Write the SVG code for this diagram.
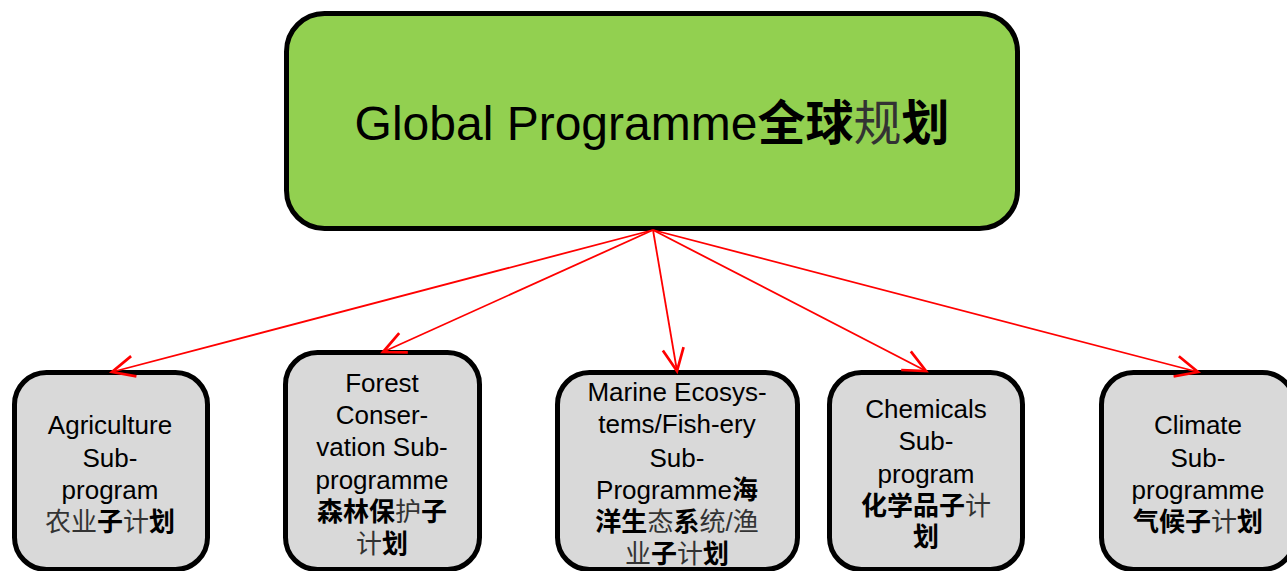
<svg xmlns="http://www.w3.org/2000/svg" width="1287" height="571" viewBox="0 0 1287 571">
<style>
text{font-family:"Liberation Sans","Noto Sans CJK SC",sans-serif;fill:#000;text-anchor:middle}
.sub{font-size:26px}
.title{font-size:48px}
.box{fill:#D9D9D9;stroke:#000;stroke-width:5}
.main{fill:#92D050;stroke:#000;stroke-width:5}
.c{font-weight:bold}
.t{fill:#333333;font-weight:normal}
.edge{stroke:#FF0000;stroke-width:1.8;fill:none;marker-end:url(#arr)}
</style>
<defs>
<marker id="arr" markerUnits="userSpaceOnUse" markerWidth="30" markerHeight="30" refX="0" refY="0" viewBox="-16 -10 20 20" orient="auto" overflow="visible">
<path d="M-15,-7 L0,0 L-15,7" fill="none" stroke="#FF0000" stroke-width="1.8"/>
</marker>
</defs>
<rect width="1287" height="571" fill="#FFFFFF"/>
<g id="global">
<rect class="main" x="286.5" y="13.5" width="731" height="215" rx="38" ry="38"/>
<text class="title" x="652" y="140">Global Programme<tspan class="c">全球</tspan><tspan class="t">规</tspan><tspan class="c">划</tspan></text>
</g>
<g id="agriculture">
<rect class="box" x="14.5" y="372.5" width="193" height="197" rx="32" ry="32"/>
<text class="sub" x="110" y="434">Agriculture</text>
<text class="sub" x="110" y="467">Sub-</text>
<text class="sub" x="110" y="499">program</text>
<text class="sub" x="110" y="531"><tspan class="t">农业</tspan><tspan class="c">子</tspan><tspan class="t">计</tspan><tspan class="c">划</tspan></text>
</g>
<g id="forest">
<rect class="box" x="285.5" y="352.5" width="194" height="217" rx="32" ry="32"/>
<text class="sub" x="382" y="392">Forest</text>
<text class="sub" x="382" y="424">Conser-</text>
<text class="sub" x="382" y="456">vation Sub-</text>
<text class="sub" x="382" y="489">programme</text>
<text class="sub" x="382" y="521"><tspan class="c">森林保</tspan><tspan class="t">护</tspan><tspan class="c">子</tspan></text>
<text class="sub" x="382" y="553"><tspan class="t">计</tspan><tspan class="c">划</tspan></text>
</g>
<g id="marine">
<rect class="box" x="557.5" y="372.5" width="240" height="197" rx="32" ry="32"/>
<text class="sub" x="677" y="401">Marine Ecosys-</text>
<text class="sub" x="677" y="433">tems/Fish-ery</text>
<text class="sub" x="677" y="467">Sub-</text>
<text class="sub" x="677" y="499">Programme<tspan class="c">海</tspan></text>
<text class="sub" x="677" y="531"><tspan class="c">洋生</tspan><tspan class="t">态</tspan><tspan class="c">系</tspan><tspan class="t">统/渔</tspan></text>
<text class="sub" x="677" y="563"><tspan class="t">业</tspan><tspan class="c">子</tspan><tspan class="t">计</tspan><tspan class="c">划</tspan></text>
</g>
<g id="chemicals">
<rect class="box" x="829.5" y="372.5" width="193" height="197" rx="32" ry="32"/>
<text class="sub" x="926" y="418">Chemicals</text>
<text class="sub" x="926" y="450">Sub-</text>
<text class="sub" x="926" y="483">program</text>
<text class="sub" x="926" y="515"><tspan class="c">化学品子</tspan><tspan class="t">计</tspan></text>
<text class="sub" x="926" y="546"><tspan class="c">划</tspan></text>
</g>
<g id="climate">
<rect class="box" x="1101.5" y="372.5" width="193" height="197" rx="32" ry="32"/>
<text class="sub" x="1198" y="434">Climate</text>
<text class="sub" x="1198" y="467">Sub-</text>
<text class="sub" x="1198" y="499">programme</text>
<text class="sub" x="1198" y="531"><tspan class="c">气候子</tspan><tspan class="t">计</tspan><tspan class="c">划</tspan></text>
</g>
<g id="connectors">
<line class="edge" x1="653" y1="230" x2="112" y2="372"/>
<line class="edge" x1="653" y1="230" x2="383" y2="352"/>
<line class="edge" x1="653" y1="230" x2="677" y2="371"/>
<line class="edge" x1="653" y1="230" x2="926" y2="371"/>
<line class="edge" x1="653" y1="230" x2="1198" y2="372"/>
</g>
</svg>
